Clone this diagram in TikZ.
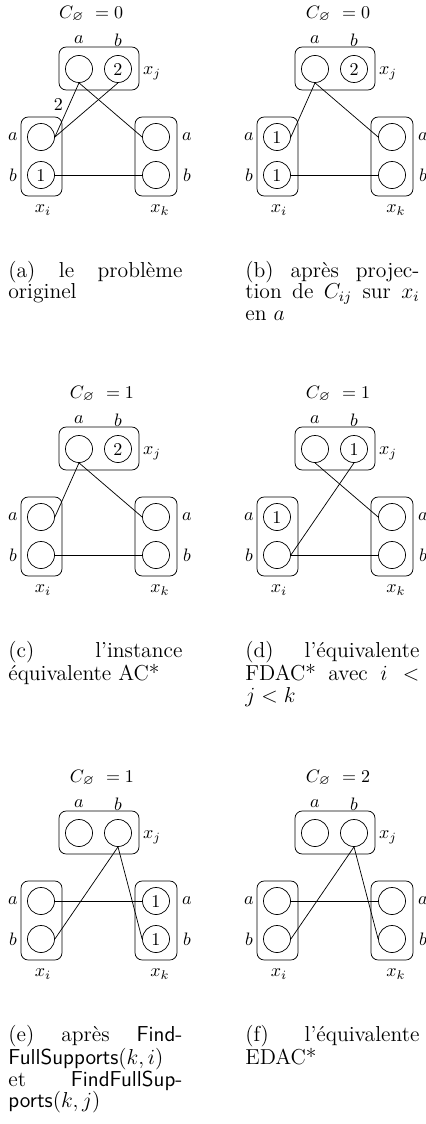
\documentclass[tikz,border=0pt]{standalone}
\usepackage{fontspec}
\usepackage{amssymb}
\usepackage{tikz}

\tikzset{
  val/.style={circle, draw, inner sep=0pt, minimum size=15pt},
  dom/.style={rounded corners=4pt},
  cost/.style={},
  legende/.style={anchor=base west, text width=96.6pt, align=justify, inner sep=0pt,
    font=\fontsize{12}{12}\selectfont},
}

% une ligne justifiee de la legende
\newcommand{\ligne}[1]{\makebox[\linewidth][s]{#1}}

% #1 prefixe, #2 options du scope, #3 cout, #4-#9 valeurs ia ib ja jb ka kb
\newcommand{\instance}[9]{%
  \begin{scope}[#2, name prefix=#1-]
    \node[cost] (cost) at (102,-14) {$C_{\varnothing}\ = #3$};
    % variable x_j
    \draw[dom] (59,-47) rectangle (139,-90);
    \node[val] (ja) at (79,-69) {#6};
    \node[val] (jb) at (118,-69) {#7};
    \node (ja-lab) at (79,-40) {$a$};
    \node (jb-lab) at (118,-40) {$b$};
    \node (xj) at (152,-73) {$x_j$};
    % variable x_i
    \draw[dom] (21,-117) rectangle (62,-196);
    \node[val] (ia) at (41,-137) {#4};
    \node[val] (ib) at (41,-175) {#5};
    \node (ia-lab) at (13,-137) {$a$};
    \node (ib-lab) at (13,-175) {$b$};
    \node (xi) at (43,-210) {$x_i$};
    % variable x_k
    \draw[dom] (135,-117) rectangle (177,-196);
    \node[val] (ka) at (156,-137) {#8};
    \node[val] (kb) at (156,-175) {#9};
    \node (ka-lab) at (187,-137) {$a$};
    \node (kb-lab) at (187,-175) {$b$};
    \node (xk) at (160,-210) {$x_k$};
  \end{scope}}

\begin{document}
\begin{tikzpicture}[x=0.555pt, y=0.555pt]
        \useasboundingbox (0,0) rectangle (426,-1124);

        % (a) le probleme originel
        \instance{a}{shift={(0,0)}, cost/.append style={xshift=-6pt}}{0}{}{1}{}{2}{}{}
        \draw (a-ja.south) -- node[pos=.4, left] (a-poids) {2} (a-ia.east);
        \draw (a-jb.south) -- (a-ia.east);
        \draw (a-ja.south) -- (a-ka.west);
        \draw (a-ib.east) -- (a-kb.west);
        \node[legende] (a-cap) at (8,-277)
          {\ligne{(a) le problème}\\ originel};

        % (b) apres projection
        \instance{b}{shift={(236,0)}}{0}{1}{1}{}{2}{}{}
        \draw (b-ja.south) -- (b-ia.east);
        \draw (b-ja.south) -- (b-ka.west);
        \draw (b-ib.east) -- (b-kb.west);
        \node[legende] (b-cap) at (245,-277)
          {\ligne{(b) après projec-}\\ \ligne{tion de $C_{ij}$ sur $x_i$}\\ en $a$};

        % (c) AC*
        \instance{c}{shift={(0,-380)}}{1}{}{}{}{2}{}{}
        \draw (c-ja.south) -- (c-ia.east);
        \draw (c-ja.south) -- (c-ka.west);
        \draw (c-ib.east) -- (c-kb.west);
        \node[legende] (c-cap) at (8,-657)
          {\ligne{(c) l'instance}\\ équivalente AC*};

        % (d) FDAC*
        \instance{d}{shift={(236,-380)}}{1}{1}{}{}{1}{}{}
        \draw (d-ja.south) -- (d-ka.west);
        \draw (d-jb.south) -- (d-ib.east);
        \draw (d-ib.east) -- (d-kb.west);
        \node[legende] (d-cap) at (245,-657)
          {\ligne{(d) l'équivalente}\\ \ligne{FDAC* avec $i <$}\\ $j < k$};

        % (e) FindFullSupports
        \instance{e}{shift={(0,-764)}}{1}{}{}{}{}{1}{1}
        \draw (e-jb.south) -- (e-ib.east);
        \draw (e-jb.south) -- (e-kb.west);
        \draw (e-ia.east) -- (e-ka.west);
        \node[legende] (e-cap) at (8,-1041)
          {\ligne{(e) après \textsf{Find-}}\\ \textsf{FullSupports}$(k,i)$\\
           \ligne{et \textsf{FindFullSup-}}\\ \textsf{ports}$(k,j)$};

        % (f) EDAC*
        \instance{f}{shift={(236,-764)}}{2}{}{}{}{}{}{}
        \draw (f-jb.south) -- (f-ib.east);
        \draw (f-jb.south) -- (f-kb.west);
        \draw (f-ia.east) -- (f-ka.west);
        \node[legende] (f-cap) at (245,-1041)
          {\ligne{(f) l'équivalente}\\ EDAC*};
    \end{tikzpicture}
\end{document}
